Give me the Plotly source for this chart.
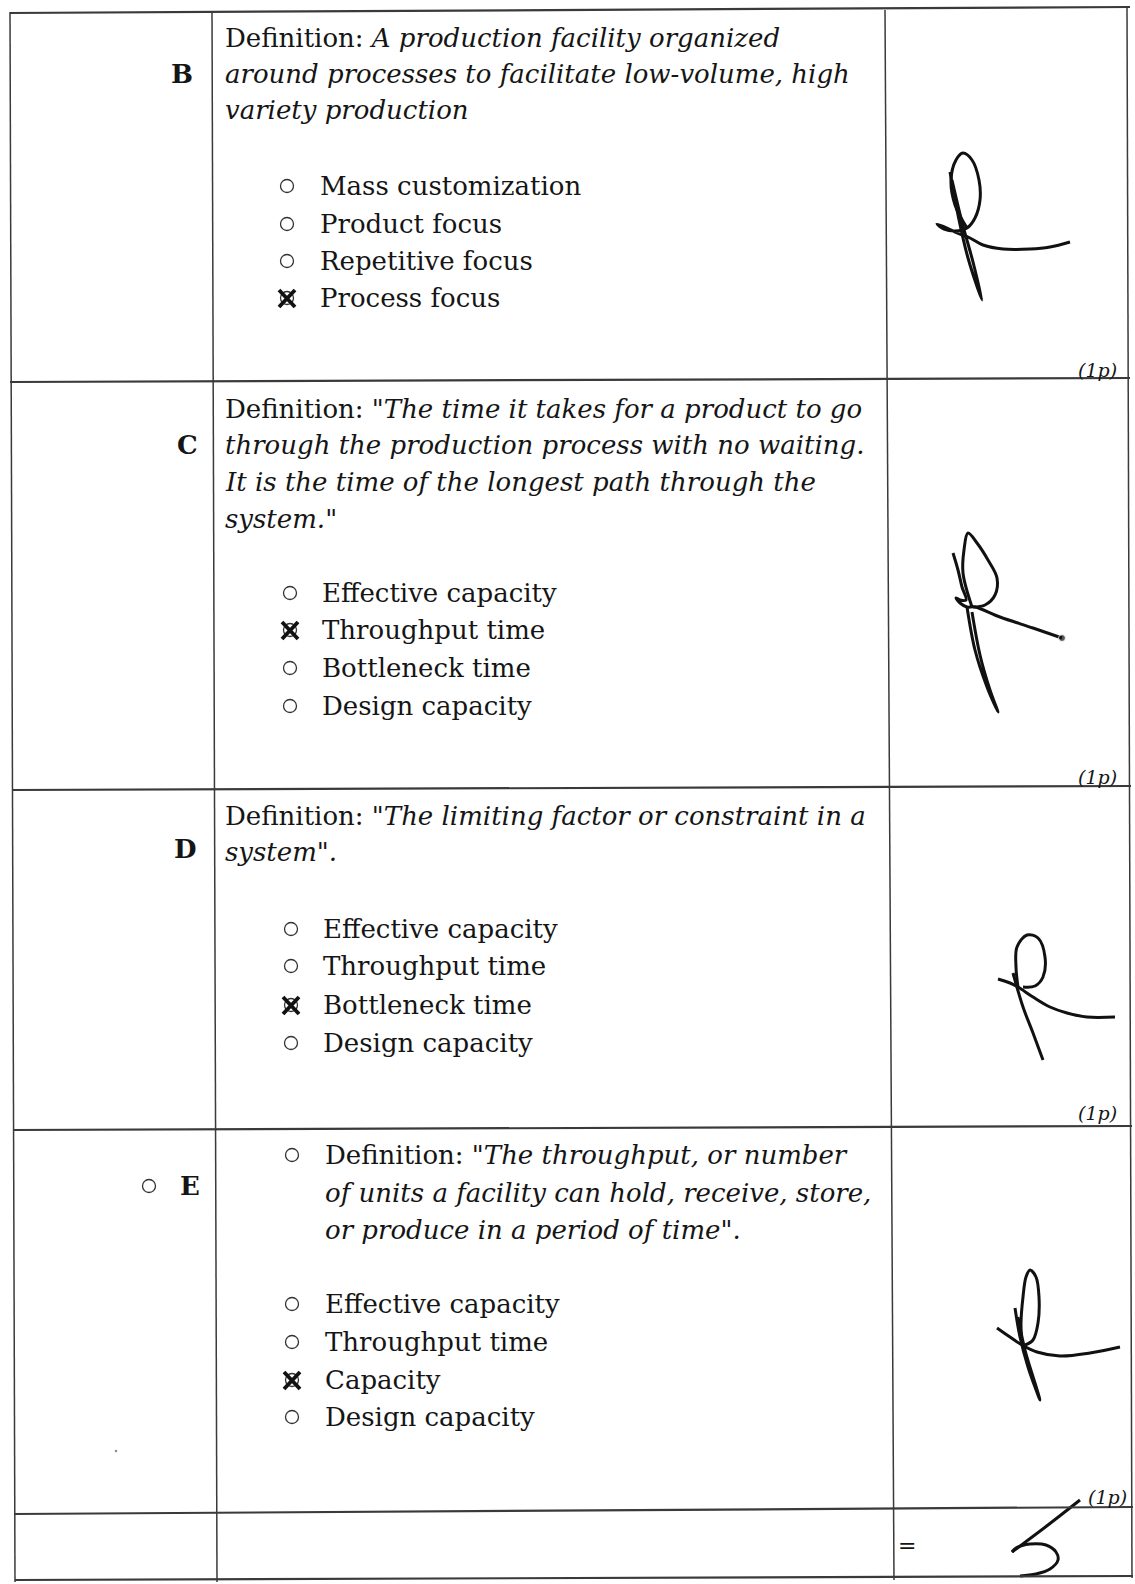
import plotly.graph_objects as go

# ---------------- content ----------------
LETTERS = ["B", "C", "D", "E"]
DEFINITIONS = [
    ["Definition: <i>A production facility organized</i>",
     "<i>around processes to facilitate low-volume, high</i>",
     "<i>variety production</i>"],
    ['Definition: <i>"The time it takes for a product to go</i>',
     "<i>through the production process with no waiting.</i>",
     "<i>It is the time of the longest path through the</i>",
     '<i>system."</i>'],
    ['Definition: <i>"The limiting factor or constraint in a</i>',
     '<i>system".</i>'],
    ['Definition: <i>"The throughput, or number</i>',
     "<i>of units a facility can hold, receive, store,</i>",
     '<i>or produce in a period of time".</i>'],
]
OPTIONS = [
    ["Mass customization", "Product focus", "Repetitive focus", "Process focus"],
    ["Effective capacity", "Throughput time", "Bottleneck time", "Design capacity"],
    ["Effective capacity", "Throughput time", "Bottleneck time", "Design capacity"],
    ["Effective capacity", "Throughput time", "Capacity", "Design capacity"],
]
CHOSEN = [3, 1, 2, 2]
POINTS_LABEL = "(1p)"
TOTAL_SIGN = "="

# ---------------- layout constants (page pixels) ----------------
W, H = 1135, 1584
DEF_Y = [[38, 74, 110], [409, 445, 482, 519], [816, 852], [1155, 1193, 1230]]
DEF_X = [223, 223, 223, 323]
LETTER_POS = [(182, 74), (187, 445), (185, 849), (190, 1186)]
OPT_Y = [[186, 224, 261, 298], [593, 630, 668, 706], [929, 966, 1005, 1043], [1304, 1342, 1380, 1417]]
OPT_CX = [287, 290, 291, 292]
OPT_TX = [318, 320, 321, 323]
PTS_POS = [(1097, 370), (1097, 777), (1097, 1113), (1107, 1497)]

# table rules: (x0, y0, x1, y1)
H_LINES = [(10, 13, 1130, 7), (10, 382, 1130, 378), (12, 790, 1131, 786),
           (13, 1130, 1132, 1126), (14, 1514, 1133, 1507), (15, 1580, 1133, 1576)]
V_LINES = [(10, 12, 15, 1582), (212, 12, 217, 1582), (885, 10, 894, 1580), (1127, 8, 1132, 1578)]

# handwriting strokes
SIG_STROKES = [
    # B
    [[967, 955, 951, 956, 963, 972, 979, 980, 975, 967, 955, 944, 937, 947, 957, 970, 983, 1003, 1030, 1050, 1070],
     [228, 205, 180, 160, 153, 160, 180, 200, 218, 228, 231, 229, 224, 228, 233, 238, 245, 249, 249, 247, 242]],
    [[950, 958, 968, 982, 973, 962, 952], [172, 215, 258, 300, 262, 222, 180]],
    # C
    [[972, 963, 964, 968, 977, 988, 997, 995, 985, 973], [607, 573, 550, 533, 543, 560, 578, 595, 605, 607]],
    [[953, 958, 962, 966, 960, 956, 960, 967, 975, 1000, 1033, 1062],
     [553, 570, 587, 600, 600, 598, 603, 607, 607, 617, 628, 638]],
    [[967, 975, 987, 998, 990, 980, 972], [607, 650, 687, 712, 690, 655, 612]],
    # D
    [[1018, 1016, 1017, 1027, 1038, 1045, 1043, 1035, 1023], [987, 967, 947, 935, 938, 957, 977, 986, 987]],
    [[998, 1010, 1018, 1033, 1050, 1067, 1087, 1115], [979, 983, 987, 997, 1007, 1013, 1017, 1017]],
    [[1013, 1023, 1033, 1043], [973, 1007, 1033, 1060]],
    # E
    [[1022, 1021, 1023, 1026, 1030, 1036, 1039, 1038, 1033, 1025], [1345, 1323, 1297, 1277, 1270, 1277, 1297, 1323, 1340, 1345]],
    [[997, 1007, 1022, 1037, 1060, 1090, 1120], [1328, 1335, 1345, 1352, 1356, 1353, 1347]],
    [[1015, 1020, 1028, 1040, 1035, 1025, 1018], [1308, 1337, 1367, 1400, 1383, 1350, 1317]],
    # total "5"
    [[1080, 1048, 1012], [1500, 1525, 1552]],
    [[1012, 1016, 1030, 1046, 1056, 1058, 1050, 1036, 1020], [1552, 1548, 1544, 1545, 1552, 1560, 1569, 1574, 1576]],
]
SIG_DOTS = [[1062, 116], [638, 1451]]

INK = "#151515"
RULE = "#3a3a3a"
SERIF = "DejaVu Serif"
FS = 26

fig = go.Figure()

for xs, ys in SIG_STROKES:
    fig.add_trace(go.Scatter(x=xs, y=ys, mode="lines",
                             line=dict(color="#111111", width=3, shape="spline", smoothing=1.0),
                             hoverinfo="skip"))
fig.add_trace(go.Scatter(x=SIG_DOTS[0], y=SIG_DOTS[1], mode="markers",
                         marker=dict(color="#111111", size=[7, 3]), hoverinfo="skip"))

shapes = []
for x0, y0, x1, y1 in H_LINES:
    shapes.append(dict(type="line", x0=x0, y0=y0, x1=x1, y1=y1, xref="x", yref="y",
                       line=dict(color=RULE, width=2.2)))
for x0, y0, x1, y1 in V_LINES:
    shapes.append(dict(type="line", x0=x0, y0=y0, x1=x1, y1=y1, xref="x", yref="y",
                       line=dict(color=RULE, width=1.5)))

annotations = []


def ann(x, y, text, size=FS, anchor="left", family=SERIF, color=INK):
    annotations.append(dict(x=x, y=y, xref="x", yref="y", text=text, showarrow=False,
                            xanchor=anchor, yanchor="middle",
                            font=dict(family=family, size=size, color=color)))


def bullet(cx, cy, r=6.5):
    shapes.append(dict(type="circle", x0=cx - r, x1=cx + r, y0=cy - r, y1=cy + r, xref="x", yref="y",
                       line=dict(color="#333333", width=1.3)))


def cross(cx, cy, s=8):
    for dx0, dy0, dx1, dy1 in [(-s, -s, s, s + 1), (-s, s + 1, s, -s)]:
        shapes.append(dict(type="line", x0=cx + dx0, y0=cy + dy0, x1=cx + dx1, y1=cy + dy1,
                           xref="x", yref="y", line=dict(color="#111111", width=3.8)))


for i, letter in enumerate(LETTERS):
    lx, ly = LETTER_POS[i]
    ann(lx, ly, "<b>" + letter + "</b>", anchor="center")
    for j, line in enumerate(DEFINITIONS[i]):
        ann(DEF_X[i], DEF_Y[i][j], line)
    for j, opt in enumerate(OPTIONS[i]):
        cy = OPT_Y[i][j]
        bullet(OPT_CX[i], cy)
        if j == CHOSEN[i]:
            cross(OPT_CX[i], cy)
        ann(OPT_TX[i], cy, opt)
    px, py = PTS_POS[i]
    ann(px, py, "<i>" + POINTS_LABEL + "</i>", size=19, anchor="center")

# extra bullets in row E
bullet(292, 1155)
bullet(149, 1186)
# total row
ann(907, 1545, TOTAL_SIGN, size=22, anchor="center")

fig.update_layout(
    width=W, height=H, margin=dict(l=0, r=0, t=0, b=0),
    paper_bgcolor="white", plot_bgcolor="white", showlegend=False,
    xaxis=dict(range=[0, W], visible=False, fixedrange=True),
    yaxis=dict(range=[H, 0], visible=False, fixedrange=True),
    shapes=shapes, annotations=annotations,
)

fig.write_html("out.html", config={"displayModeBar": False},
               post_script="document.body.style.margin='0';document.body.style.overflow='hidden';")
